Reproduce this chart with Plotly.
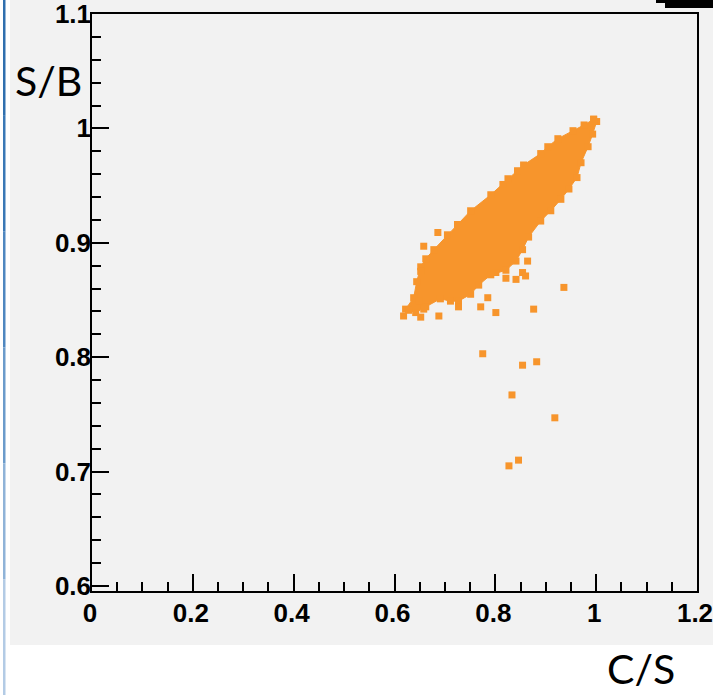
import plotly.graph_objects as go

# Outline of the dense core of the C/S vs S/B cloud (walked around the edge)
core_cs = [0.995, 0.976, 0.954, 0.924, 0.904, 0.890, 0.856, 0.825, 0.791, 0.751,
           0.725, 0.705, 0.678, 0.662, 0.652, 0.644, 0.638, 0.622, 0.642, 0.662,
           0.691, 0.711, 0.727, 0.751, 0.767, 0.791, 0.821, 0.841, 0.854, 0.866,
           0.890, 0.910, 0.930, 0.946, 0.962, 0.970, 0.984, 0.993, 1.001]
core_sb = [1.008, 1.003, 0.998, 0.991, 0.984, 0.978, 0.968, 0.956, 0.942, 0.928,
           0.916, 0.907, 0.894, 0.886, 0.879, 0.866, 0.852, 0.842, 0.839, 0.844,
           0.851, 0.849, 0.849, 0.855, 0.863, 0.872, 0.876, 0.884, 0.894, 0.905,
           0.919, 0.928, 0.938, 0.947, 0.957, 0.970, 0.984, 0.995, 1.006]

# Isolated events away from the core
out_cs = [0.686, 0.658, 0.652, 0.648, 0.628, 0.618, 0.652, 0.688, 0.658, 0.727,
          0.771, 0.801, 0.785, 0.801, 0.821, 0.841, 0.854, 0.864, 0.860, 0.876,
          0.936, 0.775, 0.854, 0.882, 0.833, 0.918, 0.827, 0.846, 0.844, 0.815]
out_sb = [0.909, 0.897, 0.875, 0.849, 0.841, 0.836, 0.835, 0.836, 0.842, 0.844,
          0.844, 0.839, 0.852, 0.874, 0.869, 0.868, 0.874, 0.884, 0.871, 0.842,
          0.861, 0.803, 0.793, 0.796, 0.767, 0.747, 0.705, 0.710, 0.963, 0.951]

x_ticks = [0, 0.2, 0.4, 0.6, 0.8, 1.0, 1.2]
x_labels = ["0", "0.2", "0.4", "0.6", "0.8", "1", "1.2"]
y_ticks = [0.6, 0.7, 0.8, 0.9, 1.0, 1.1]
y_labels = ["0.6", "0.7", "0.8", "0.9", "1", "1.1"]

ORANGE = "#f7952c"
W, H = 713, 695
L, R, T, B = 92, 16, 14, 104


def px(p):
    return (p - L) / (W - L - R)


def py(p):
    return (H - B - p) / (H - T - B)


fig = go.Figure()
fig.add_trace(go.Scatter(
    x=core_cs + core_cs[:1], y=core_sb + core_sb[:1],
    mode="lines+markers", fill="toself", fillcolor=ORANGE,
    line=dict(color=ORANGE, width=1),
    marker=dict(symbol="square", size=7, color=ORANGE),
    hoverinfo="skip", showlegend=False,
))
fig.add_trace(go.Scatter(
    x=out_cs, y=out_sb, mode="markers",
    marker=dict(symbol="square", size=7, color=ORANGE),
    showlegend=False,
))

tick_font = dict(family="Liberation Sans, Arial, sans-serif", size=26, color="black", weight="bold")

fig.update_xaxes(
    range=[0, 1.2], tickvals=x_ticks, ticktext=x_labels,
    ticks="inside", ticklen=17, tickwidth=1.5, tickcolor="black",
    minor=dict(dtick=0.05, tick0=0, ticks="inside", ticklen=9, tickwidth=1.5, tickcolor="black"),
    showline=True, linecolor="black", linewidth=1.5, mirror=True,
    showgrid=False, zeroline=False, tickfont=tick_font,
    automargin=False, ticklabeloverflow="allow", ticklabelstandoff=-2,
    ticklabelshift=-2,
)
fig.update_yaxes(
    range=[0.5956, 1.1], tickvals=y_ticks, ticktext=y_labels,
    ticks="inside", ticklen=17, tickwidth=1.5, tickcolor="black",
    minor=dict(dtick=0.02, tick0=0.6, ticks="inside", ticklen=9, tickwidth=1.5, tickcolor="black"),
    showline=True, linecolor="black", linewidth=1.5, mirror=True,
    showgrid=False, zeroline=False, tickfont=tick_font,
    automargin=False, ticklabeloverflow="allow", ticklabelstandoff=-6,
)

shapes = [
    # grey slide panel behind the plot
    dict(type="rect", xref="paper", yref="paper", x0=px(10), x1=px(W), y0=py(645), y1=py(0),
         fillcolor="#f2f2f2", line=dict(width=0), layer="below"),
    # black bar at the top right corner
    dict(type="rect", xref="paper", yref="paper", x0=px(665), x1=px(W), y0=py(8), y1=py(0),
         fillcolor="black", line=dict(width=0)),
    dict(type="rect", xref="paper", yref="paper", x0=px(656), x1=px(665), y0=py(3), y1=py(0),
         fillcolor="black", line=dict(width=0)),
]
# blue rule down the left edge, fading towards the bottom
blues = ["#2f6fae", "#3a78b6", "#4f87c0", "#6b9bcb", "#8fb3d8", "#b3cbe5"]
seg = H / len(blues)
for i, c in enumerate(blues):
    shapes.append(dict(type="rect", xref="paper", yref="paper",
                       x0=px(3), x1=px(5.5), y0=py(seg * (i + 1)), y1=py(seg * i),
                       fillcolor=c, line=dict(width=0)))

label_font = dict(family="Lato, Open Sans, sans-serif", size=41, color="black")
fig.update_layout(
    width=W, height=H,
    margin=dict(l=L, r=R, t=T, b=B, autoexpand=False),
    paper_bgcolor="white", plot_bgcolor="#f3f3f3",
    shapes=shapes,
    annotations=[
        dict(text="S/B", xref="paper", yref="paper", x=px(48), y=py(80),
             xanchor="center", yanchor="middle", showarrow=False, font=label_font),
        dict(text="C/S", xref="paper", yref="paper", x=px(641), y=py(668),
             xanchor="center", yanchor="middle", showarrow=False, font=label_font),
    ],
)

fig.write_html("out.html")
